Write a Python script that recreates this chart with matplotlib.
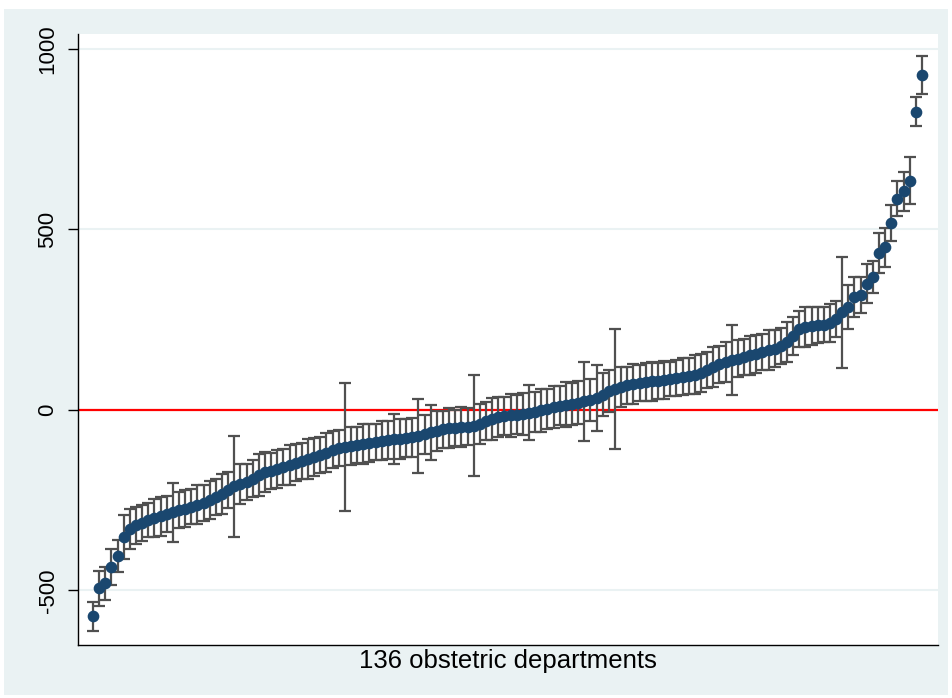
import matplotlib
matplotlib.use("Agg")
import numpy as np
import matplotlib.pyplot as plt
from matplotlib.patches import Rectangle

# Department estimates, sorted, with half-width of the 95% interval
estimate = [
    -571, -494, -480, -435, -405, -352, -330, -320, -312, -305,
    -300, -295, -288, -283, -278, -273, -268, -262, -257, -250,
    -242, -233, -222, -212, -205, -200, -190, -180, -172, -168,
    -163, -158, -152, -146, -141, -135, -130, -125, -118, -110,
    -106, -103, -100, -97, -94, -91, -88, -85, -83, -81,
    -80, -78, -76, -73, -68, -62, -58, -54, -51, -49,
    -47, -46, -44, -38, -30, -24, -20, -17, -15, -13,
    -11, -8, -5, -1, 3, 7, 12, 15, 17, 20,
    24, 28, 33, 42, 52, 58, 63, 68, 72, 75,
    77, 79, 81, 83, 86, 89, 92, 95, 98, 103,
    110, 118, 126, 133, 138, 142, 147, 151, 155, 160,
    165, 170, 178, 188, 205, 225, 230, 232, 234, 236,
    240, 252, 270, 285, 312, 318, 350, 368, 435, 450,
    517, 585, 605, 635, 826, 928,
]
half_width = [
    40, 48, 45, 50, 45, 62, 55, 52, 50, 48,
    52, 55, 50, 82, 50, 52, 48, 55, 50, 52,
    50, 55, 50, 140, 55, 50, 52, 58, 55, 50,
    52, 50, 55, 52, 50, 55, 52, 50, 55, 52,
    50, 178, 52, 50, 55, 52, 50, 55, 52, 70,
    55, 52, 55, 103, 55, 76, 55, 52, 55, 50,
    55, 52, 140, 55, 52, 58, 55, 52, 60, 55,
    58, 76, 55, 60, 55, 58, 55, 62, 58, 60,
    109, 58, 92, 60, 58, 165, 55, 52, 55, 50,
    52, 55, 50, 52, 48, 50, 52, 50, 55, 52,
    50, 55, 52, 55, 98, 52, 50, 55, 52, 50,
    55, 52, 50, 55, 52, 50, 55, 52, 50, 48,
    52, 50, 153, 60, 55, 50, 55, 45, 55, 55,
    50, 48, 55, 65, 40, 53,
]
x_label = "136 obstetric departments"
y_ticks = [-500, 0, 500, 1000]

bg = "#eaf2f3"
navy = "#1a476f"
bar_grey = "#505050"

fig = plt.figure(figsize=(9.52, 6.98), dpi=100, facecolor="white")
W, H = 952, 698
fig.patches.append(Rectangle((4 / W, 3 / H), 944 / W, 686 / H,
                             transform=fig.transFigure, facecolor=bg,
                             edgecolor="none", zorder=-10))

ax = fig.add_axes([78 / W, (H - 645) / H, (938 - 78) / W, (645 - 34) / H])
ax.set_zorder(1)
ax.set_facecolor("white")

x = np.arange(1, len(estimate) + 1)
est = np.array(estimate, dtype=float)
hw = np.array(half_width, dtype=float)

for t in y_ticks:
    ax.axhline(t, color=bg, lw=1.5, zorder=1)
ax.axhline(0, color="#ff0000", lw=1.6, zorder=2)

ax.errorbar(x, est, yerr=hw, fmt="none", ecolor=bar_grey, elinewidth=1.6,
            capsize=4.5, capthick=1.6, zorder=3)
ax.plot(x, est, "o", color=navy, ms=7.4, mec=navy, zorder=4)

ax.set_xlim(-1.45, 138.6)
ax.set_ylim(-651, 1041)
ax.set_xticks([])
ax.set_yticks(y_ticks)
ax.set_yticklabels([str(t) for t in y_ticks], rotation=90, va="center",
                   fontsize=16, family="Liberation Sans")
ax.tick_params(axis="y", length=7, width=1, color="black", pad=7)

for side in ("top", "right"):
    ax.spines[side].set_visible(False)
for side in ("left", "bottom"):
    ax.spines[side].set_color("black")
    ax.spines[side].set_linewidth(1)

ax.set_xlabel(x_label, fontsize=18.5, family="Liberation Sans", labelpad=3)

fig.savefig("out.png", dpi=100, facecolor=fig.get_facecolor())
